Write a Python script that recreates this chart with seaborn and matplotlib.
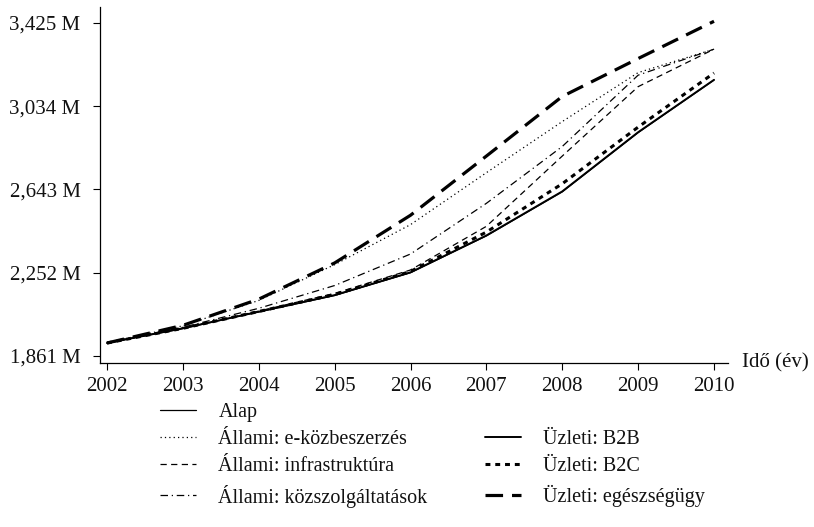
import matplotlib
matplotlib.use("Agg")
import matplotlib.pyplot as plt
from matplotlib.lines import Line2D
import seaborn as sns
import pandas as pd

# ---- data (values in millions) ----
years = [2002, 2003, 2004, 2005, 2006, 2007, 2008, 2009, 2010]
alap = [1.922, 1.990, 2.068, 2.145, 2.252, 2.425, 2.632, 2.910, 3.157]
allami_ekoz = [1.922, 2.003, 2.122, 2.290, 2.478, 2.722, 2.962, 3.192, 3.302]
allami_infra = [1.922, 1.992, 2.072, 2.155, 2.265, 2.470, 2.800, 3.126, 3.302]
allami_kozszolg = [1.922, 1.996, 2.085, 2.192, 2.340, 2.578, 2.845, 3.180, 3.302]
uzleti_b2b = [1.922, 1.991, 2.069, 2.147, 2.254, 2.427, 2.634, 2.912, 3.158]
uzleti_b2c = [1.922, 1.991, 2.070, 2.150, 2.258, 2.443, 2.670, 2.936, 3.190]
uzleti_egesz = [1.922, 2.005, 2.128, 2.298, 2.522, 2.800, 3.080, 3.258, 3.433]

series_names = ["Alap", "Állami: e-közbeszerzés", "Állami: infrastruktúra",
                "Állami: közszolgáltatások", "Üzleti: B2B", "Üzleti: B2C",
                "Üzleti: egészségügy"]
series_values = [alap, allami_ekoz, allami_infra, allami_kozszolg,
                 uzleti_b2b, uzleti_b2c, uzleti_egesz]
yticks = [1.861, 2.252, 2.643, 3.034, 3.425]
ytick_labels = ["1,861 M", "2,252 M", "2,643 M", "3,034 M", "3,425 M"]
x_label = "Idő (év)"

# ---- styles ----
styles = {
    "Alap": dict(lw=0.9, dashes=None),
    "Állami: e-közbeszerzés": dict(lw=0.9, dashes=(1, 2.5)),
    "Állami: infrastruktúra": dict(lw=0.9, dashes=(5, 3.5)),
    "Állami: közszolgáltatások": dict(lw=0.9, dashes=(6, 3, 1, 3)),
    "Üzleti: B2B": dict(lw=1.4, dashes=None),
    "Üzleti: B2C": dict(lw=2.2, dashes=(1.6, 1.6)),
    "Üzleti: egészségügy": dict(lw=2.3, dashes=(5.5, 2.8)),
}

sns.set_theme(style="white")
plt.rcParams["font.family"] = ["Liberation Serif", "DejaVu Serif"]

fig = plt.figure(figsize=(8.14, 5.27), dpi=100)
ax = fig.add_axes([100 / 814, 1 - 363 / 527, (728 - 100) / 814, (363 - 7) / 527])

draw_order = ["Üzleti: B2B", "Alap", "Üzleti: B2C", "Állami: infrastruktúra",
              "Állami: közszolgáltatások", "Állami: e-közbeszerzés",
              "Üzleti: egészségügy"]
handles = {}
for name in draw_order:
    vals = series_values[series_names.index(name)]
    df = pd.DataFrame({"year": years, "value": vals})
    st = styles[name]
    sns.lineplot(data=df, x="year", y="value", ax=ax, color="black",
                 linewidth=st["lw"], legend=False)
    line = ax.lines[-1]
    if st["dashes"] is not None:
        line.set_dashes(st["dashes"])
    h = Line2D([], [], color="black", linewidth=st["lw"])
    if st["dashes"] is not None:
        h.set_dashes(st["dashes"])
    handles[name] = h

ax.set_xlim(2002 - 7 / 75.9, 2010 + 14 / 75.9)
ax.set_ylim(1.861 - 7 * 0.004694, 3.425 + 16 * 0.004694)
ax.set_xticks(years)
ax.set_xticklabels([str(y) for y in years])
ax.set_yticks(yticks)
ax.set_yticklabels(ytick_labels)
ax.set_xlabel("")
ax.set_ylabel("")
for s in ["top", "right"]:
    ax.spines[s].set_visible(False)
for s in ["left", "bottom"]:
    ax.spines[s].set_color("black")
    ax.spines[s].set_linewidth(0.9)
ax.tick_params(axis="both", which="major", direction="out", length=5,
               width=0.8, color="black", labelsize=15, labelcolor="#111111")
ax.tick_params(axis="y", pad=9)
ax.tick_params(axis="x", pad=5, bottom=True)
ax.tick_params(axis="y", left=True)
ax.grid(False)

ax.annotate(x_label, xy=(1.0, 0.0), xycoords="axes fraction",
            xytext=(10, 0), textcoords="offset points",
            ha="left", va="center", fontsize=15, color="#111111")

blank = Line2D([], [], color="none")
leg_handles = [handles["Alap"], handles["Állami: e-közbeszerzés"],
               handles["Állami: infrastruktúra"], handles["Állami: közszolgáltatások"],
               blank, handles["Üzleti: B2B"], handles["Üzleti: B2C"],
               handles["Üzleti: egészségügy"]]
leg_labels = ["Alap", "Állami: e-közbeszerzés", "Állami: infrastruktúra",
              "Állami: közszolgáltatások", "", "Üzleti: B2B", "Üzleti: B2C",
              "Üzleti: egészségügy"]
fig.legend(leg_handles, leg_labels, ncol=2, loc="upper left",
           bbox_to_anchor=(150 / 814, 1 - 393 / 527), frameon=False,
           fontsize=14.5, handlelength=1.8, handletextpad=1.1,
           columnspacing=2.85, labelspacing=0.4, borderpad=0.0,
           labelcolor="#111111")

fig.savefig("out.png", dpi=100)
